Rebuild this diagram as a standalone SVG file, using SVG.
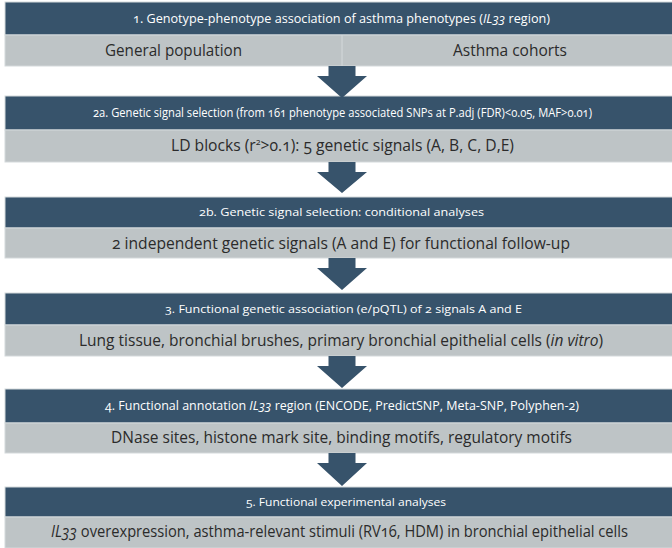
<svg xmlns="http://www.w3.org/2000/svg" width="672" height="548" viewBox="0 0 672 548">
<style>
.hd{fill:#37536b;stroke:#d4d9db;stroke-width:1}
.bd{fill:#bec4c6;stroke:#d4d9db;stroke-width:1}
.ht{fill:#ffffff;font-family:"Open Sans","DejaVu Sans",sans-serif;text-anchor:middle;font-variant-numeric:oldstyle-nums}
.bt{fill:#2b2b2b;font-family:"Open Sans","DejaVu Sans",sans-serif;font-size:16px;text-anchor:middle;font-variant-numeric:oldstyle-nums}
.arr{fill:#37536b}
.it{font-style:italic}
</style>
<rect width="672" height="548" fill="#ffffff"/>
<g id="step1">
<rect class="hd" x="5" y="2" width="680" height="33"/>
<rect class="bd" x="5" y="35" width="680" height="31"/>
<line x1="342" y1="35" x2="342" y2="66" stroke="#d4d9db" stroke-width="1"/>
<text class="ht" x="341.5" y="23" font-size="12.5" textLength="417" lengthAdjust="spacingAndGlyphs">1. Genotype-phenotype association of asthma phenotypes (<tspan class="it">IL33</tspan> region)</text>
<text class="bt" x="173.5" y="56" textLength="137" lengthAdjust="spacingAndGlyphs">General population</text>
<text class="bt" x="510" y="56" textLength="114" lengthAdjust="spacingAndGlyphs">Asthma cohorts</text>
</g>
<g id="step2a">
<rect class="hd" x="5" y="96" width="680" height="34"/>
<rect class="bd" x="5" y="130" width="680" height="32"/>
<text class="ht" x="342.5" y="117" font-size="12.5" textLength="499" lengthAdjust="spacingAndGlyphs">2a. Genetic signal selection (from 161 phenotype associated SNPs at P.adj (FDR)&lt;0.05, MAF&gt;0.01)</text>
<text class="bt" x="342.5" y="151" textLength="343" lengthAdjust="spacingAndGlyphs">LD blocks (r<tspan font-size="9" dy="-6">2</tspan><tspan dy="6">&gt;0.1): 5 genetic signals (A, B, C, D,E)</tspan></text>
</g>
<g id="step2b">
<rect class="hd" x="5" y="197" width="680" height="31"/>
<rect class="bd" x="5" y="228" width="680" height="30"/>
<text class="ht" x="341.5" y="216" font-size="11.5" textLength="285" lengthAdjust="spacingAndGlyphs">2b. Genetic signal selection: conditional analyses</text>
<text class="bt" x="341" y="249" textLength="458" lengthAdjust="spacingAndGlyphs">2 independent genetic signals (A and E) for functional follow-up</text>
</g>
<g id="step3">
<rect class="hd" x="5" y="293" width="680" height="32"/>
<rect class="bd" x="5" y="325" width="680" height="31"/>
<text class="ht" x="343.5" y="313" font-size="11.5" textLength="357" lengthAdjust="spacingAndGlyphs">3. Functional genetic association (e/pQTL) of 2 signals A and E</text>
<text class="bt" x="341" y="346" textLength="524" lengthAdjust="spacingAndGlyphs">Lung tissue, bronchial brushes, primary bronchial epithelial cells (<tspan class="it">in vitro</tspan>)</text>
</g>
<g id="step4">
<rect class="hd" x="5" y="389" width="680" height="34"/>
<rect class="bd" x="5" y="423" width="680" height="30"/>
<text class="ht" x="342" y="410" font-size="12" textLength="474" lengthAdjust="spacingAndGlyphs">4. Functional annotation <tspan class="it">IL33</tspan> region  (ENCODE, PredictSNP, Meta-SNP, Polyphen-2)</text>
<text class="bt" x="341.5" y="443" textLength="461" lengthAdjust="spacingAndGlyphs">DNase sites, histone mark site, binding motifs, regulatory motifs</text>
</g>
<g id="step5">
<rect class="hd" x="5" y="487" width="680" height="30"/>
<rect class="bd" x="5" y="517" width="680" height="31"/>
<text class="ht" x="346" y="506" font-size="11.5" textLength="200" lengthAdjust="spacingAndGlyphs">5. Functional experimental analyses</text>
<text class="bt" x="339.5" y="537" textLength="577" lengthAdjust="spacingAndGlyphs"><tspan class="it">IL33</tspan> overexpression, asthma-relevant stimuli (RV16, HDM) in bronchial epithelial cells</text>
</g>
<g id="connectors">
<polygon class="arr" points="328.5,66 355.5,66 355.5,76 367,76 342,98 317,76 328.5,76"/>
<polygon class="arr" points="328.5,162 355.5,162 355.5,172 367,172 342,193 317,172 328.5,172"/>
<polygon class="arr" points="328.5,258 355.5,258 355.5,268 367,268 342,290 317,268 328.5,268"/>
<polygon class="arr" points="328.5,356 355.5,356 355.5,366 367,366 342,388 317,366 328.5,366"/>
<polygon class="arr" points="328.5,453 355.5,453 355.5,463 367,463 342,486 317,463 328.5,463"/>
</g>
</svg>
